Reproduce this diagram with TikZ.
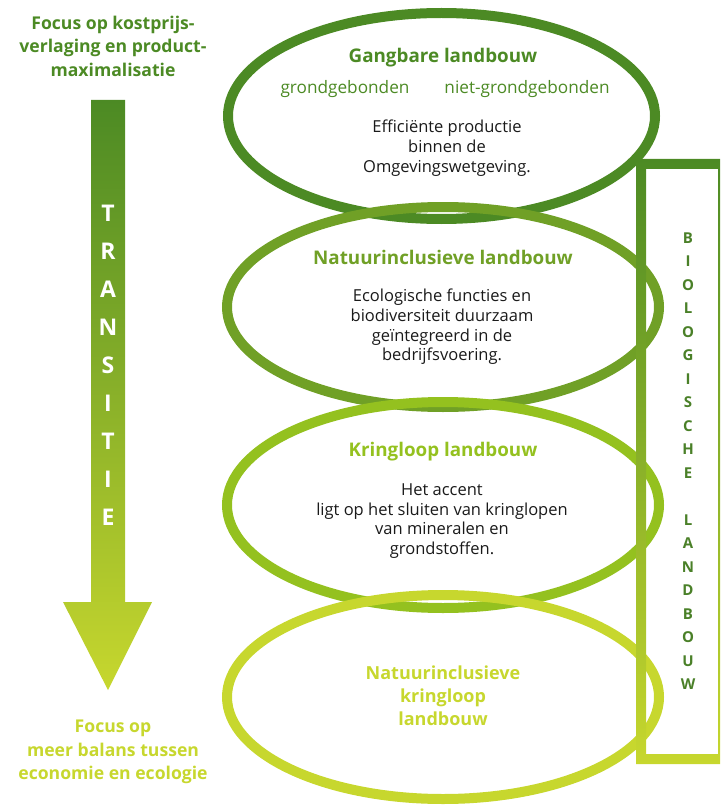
\documentclass[tikz,border=0pt]{standalone}
\usepackage{fontspec}
\setmainfont{Open Sans}
\definecolor{gangbaargreen}{RGB}{76,138,36}
\definecolor{natuurgreen}{RGB}{112,160,38}
\definecolor{kringgreen}{RGB}{148,193,31}
\definecolor{limegreen}{RGB}{199,215,46}
\definecolor{textblack}{RGB}{26,26,26}
\definecolor{biogreen}{RGB}{74,128,40}
\begin{document}
\begin{tikzpicture}[x=1pt,y=-1pt,
  ring/.style={line width=10pt},
  kop/.style={font=\bfseries\fontsize{18.8}{23}\selectfont, align=center, inner sep=0pt},
  sub/.style={font=\fontsize{17.2}{20}\selectfont, text=gangbaargreen, inner sep=0pt},
  uitleg/.style={font=\fontsize{16.5}{19.7}\selectfont, text=textblack, align=center, inner sep=0pt},
  focus/.style={font=\bfseries\fontsize{17.6}{23.5}\selectfont, align=center, inner sep=0pt}]
\clip (0,0) rectangle (720,805);
\def\x{443}

% transitie arrow
\shade[top color=gangbaargreen, bottom color=limegreen]
  (91,100) -- (125,100) -- (125,602) -- (152,602) -- (108,690) -- (63,602) -- (91,602) -- cycle;
\node[font=\bfseries\fontsize{23}{38}\selectfont, text=white, align=center, inner sep=0pt]
  (transitie) at (108,365) {T\\R\\A\\N\\S\\I\\T\\I\\E};

\node[focus, text=gangbaargreen] (focustop) at (113,46)
  {Focus op kostprijs-\\verlaging en product-\\maximalisatie};
\node[focus, text=limegreen] (focusbottom) at (113,752)
  {Focus op\\meer balans tussen\\economie en ecologie};

% ellipses
\draw[ring, gangbaargreen] (441.5,116) ellipse [x radius=213.5pt, y radius=103pt];
\draw[ring, natuurgreen] (\x,307) ellipse [x radius=216pt, y radius=100pt];
\draw[ring, kringgreen] (\x,505) ellipse [x radius=216pt, y radius=103pt];
\draw[ring, limegreen] (\x,697) ellipse [x radius=216pt, y radius=102pt];

\node[kop, text=gangbaargreen] (gangbaar) at (\x,58) {Gangbare landbouw};
\node[sub] (grond) at (345,89) {grondgebonden};
\node[sub] (nietgrond) at (527,89) {niet-grondgebonden};
\node[uitleg] (efficient) at (447,148)
  {Efficiënte productie\\binnen de\\Omgevingswetgeving.};

\node[kop, text=natuurgreen] (natuur) at (\x,257) {Natuurinclusieve landbouw};
\node[uitleg] (ecologie) at (442,327)
  {Ecologische functies en\\biodiversiteit duurzaam\\geïntegreerd in de\\bedrijfsvoering.};

\node[kop, text=kringgreen] (kring) at (\x,452) {Kringloop landbouw};
\node[uitleg] (accent) at (442,521)
  {Het accent\\ligt op het sluiten van kringlopen\\van mineralen en\\grondstoffen.};

\node[kop, text=limegreen, font=\bfseries\fontsize{18}{23}\selectfont] (natuurkring) at (\x,696)
  {Natuurinclusieve\\kringloop\\landbouw};

% biologische landbouw frame
\shade[top color=gangbaargreen, bottom color=limegreen, even odd rule]
  (636,159) rectangle (728,764) (646,169) rectangle (718,754);
\node[font=\bfseries\fontsize{15}{23.5}\selectfont, text=biogreen, align=center, inner sep=0pt]
  (bio) at (688,461) {B\\I\\O\\L\\O\\G\\I\\S\\C\\H\\E\\\mbox{}\\L\\A\\N\\D\\B\\O\\U\\W};
\end{tikzpicture}
\end{document}
